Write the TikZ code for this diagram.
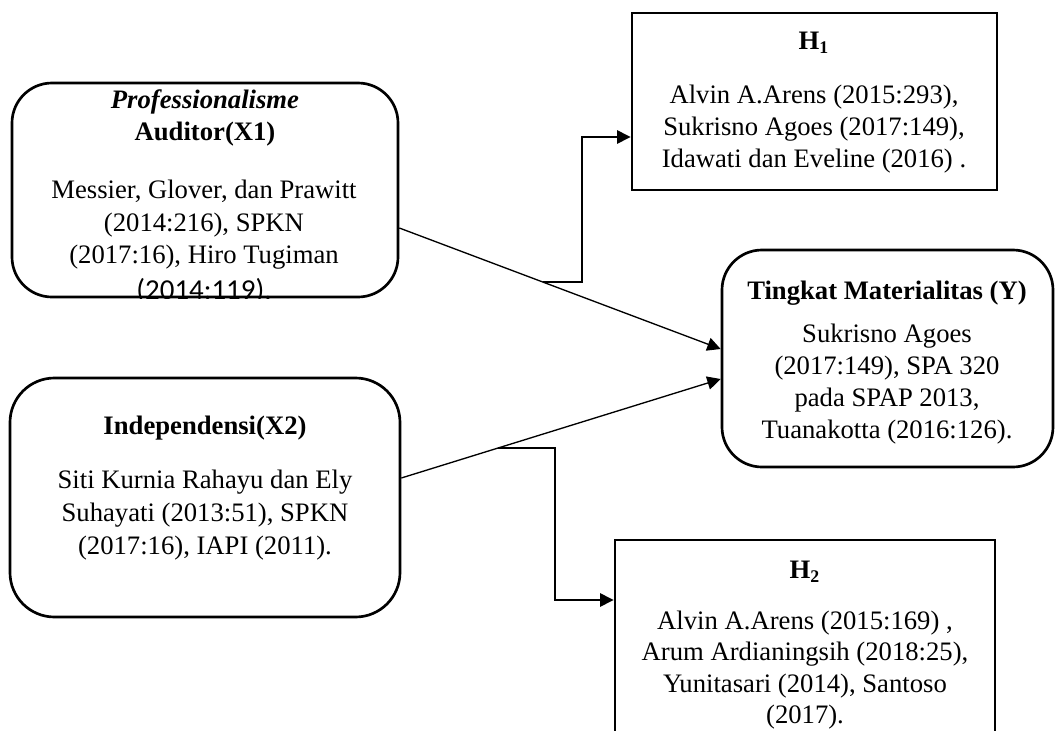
\documentclass[tikz,border=0pt]{standalone}
\usepackage{fontspec}
\setmainfont{Liberation Serif}
\newfontfamily\calib{Carlito}
\usetikzlibrary{arrows.meta,calc}
\begin{document}
\begin{tikzpicture}[x=0.45pt,y=-0.45pt,
  rbox/.style={draw, line width=1.2pt, inner sep=0pt},
  sbox/.style={draw, line width=1.3pt, inner sep=0pt},
  txt/.style={align=center, inner sep=0pt, font=\fontsize{12}{14.3}\selectfont},
  ttl/.style={align=center, inner sep=0pt, font=\fontsize{12}{14.3}\selectfont\bfseries},
  conn/.style={line width=0.6pt},
  arr/.style={conn, -{Triangle[length=6pt,width=6pt]}}]
\useasboundingbox (0,0) rectangle (1059,731);
\clip (0,0) rectangle (1059,731);
% boxes
\node[rbox, rounded corners=18pt, minimum width=173.7pt, minimum height=96.3pt] (x1) at (205,190) {};
\node[sbox, minimum width=164.25pt, minimum height=79.65pt] (h1) at (814.5,101.5) {};
\node[rbox, rounded corners=18pt, minimum width=148.95pt, minimum height=97.65pt] (yb) at (887.5,358.5) {};
\node[rbox, rounded corners=20pt, minimum width=175.5pt, minimum height=107.55pt] (x2) at (205,497.5) {};
\node[sbox, minimum width=171pt, minimum height=108pt] (h2) at (805,660) {};
% texts X1
\node[ttl] (x1t) at (205,102) {\textit{Professionalisme}};
\node[ttl] (x1u) at (205,134) {Auditor(X1)};
\node[txt, font=\fontsize{12}{14.6}\selectfont] (x1b) at (204,225) {Messier, Glover, dan Prawitt\\(2014:216), SPKN\\(2017:16), Hiro Tugiman};
\begin{scope}
\clip (x1.north west) rectangle (x1.south east);
\node[inner sep=0pt, font=\calib\fontsize{13}{15}\selectfont] (x1c) at (204,291) {(2014:119).};
\end{scope}
% texts H1
\node[ttl] (h1t) at (814,43) {H\textsubscript{1}};
\node[txt] (h1b) at (814,129) {Alvin A.Arens (2015:293),\\Sukrisno Agoes (2017:149),\\Idawati dan Eveline (2016) .};
% texts Y
\node[ttl] (ybt) at (887,293) {Tingkat Materialitas (Y)};
\node[txt] (ybb) at (887,384) {Sukrisno Agoes\\(2017:149), SPA 320\\pada SPAP 2013,\\Tuanakotta (2016:126).};
% texts X2
\node[ttl] (x2t) at (205,428) {Independensi(X2)};
\node[txt, font=\fontsize{12}{14.8}\selectfont] (x2b) at (205,515) {Siti Kurnia Rahayu dan Ely\\Suhayati (2013:51), SPKN\\(2017:16), IAPI (2011).};
% texts H2
\node[ttl] (h2t) at (805,572) {H\textsubscript{2}};
\node[txt, font=\fontsize{12}{14.1}\selectfont] (h2b) at (805,670) {Alvin A.Arens (2015:169) ,\\Arum Ardianingsih (2018:25),\\Yunitasari (2014), Santoso\\(2017).};
% connectors
\coordinate (s1) at (0,228);
\coordinate (e1) at (0,349);
\coordinate (s2) at (0,478);
\coordinate (e2) at (0,379);
\coordinate (p1) at (x1.east |- s1);
\coordinate (q1) at (yb.west |- e1);
\coordinate (p2) at (x2.east |- s2);
\coordinate (q2) at (yb.west |- e2);
\draw[arr] (p1) -- (q1);
\draw[arr] (p2) -- (q2);
\coordinate (b1) at ($(p1)!0.4463!(q1)$);
\coordinate (b2) at ($(p2)!0.303!(q2)$);
\coordinate (k1) at (582,137);
\coordinate (k2) at (555,600);
\draw[arr] (b1) -| (k1) -- (h1.west |- k1);
\draw[arr] (b2) -| (k2) -- (h2.west |- k2);
\end{tikzpicture}
\end{document}
